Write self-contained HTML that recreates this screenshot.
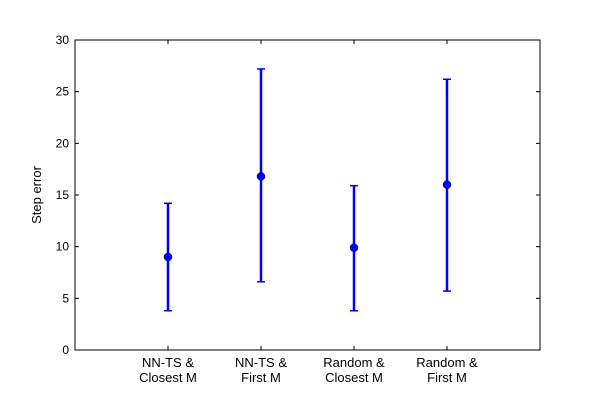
<!DOCTYPE html>
<html><head><meta charset="utf-8"><style>
body{margin:0;background:#fff}
svg{font-family:"Liberation Sans",sans-serif}
</style></head><body>
<svg id="chart" width="600" height="400"></svg>
<script>
const categories=["NN-TS &|Closest M","NN-TS &|First M","Random &|Closest M","Random &|First M"];
const means=[9.0,16.8,9.9,16.0];
const lows=[3.8,6.6,3.8,5.7];
const highs=[14.2,27.2,15.9,26.2];
const yTicks=[0,5,10,15,20,25,30];
const L=75,R=540,T=40,B=350;
const x=i=>L+(i+1)*(R-L)/5;
const y=v=>B-v*(B-T)/30;
const svg=document.getElementById('chart');
const NS='http://www.w3.org/2000/svg';
function mk(tag,attrs,parent){const e=document.createElementNS(NS,tag);for(const k in attrs)e.setAttribute(k,attrs[k]);(parent||svg).appendChild(e);return e;}
const frame=mk('rect',{x:L,y:T,width:R-L,height:B-T,fill:'none',stroke:'#000','stroke-width':1});


yTicks.forEach(v=>{
 const yy=y(v);
 mk('line',{x1:L,x2:L+4,y1:yy,y2:yy,stroke:'#000'});
 mk('line',{x1:R,x2:R-4,y1:yy,y2:yy,stroke:'#000'});
 const t=mk('text',{x:L-6,y:yy+4,'text-anchor':'end','font-size':12});
 t.textContent=v;
 
 
});
categories.forEach((c,i)=>{
 const xx=x(i);
 mk('line',{x1:xx,x2:xx,y1:B,y2:B-4,stroke:'#000'});
 mk('line',{x1:xx,x2:xx,y1:T,y2:T+4,stroke:'#000'});
 const parts=c.split('|');
 parts.forEach((p,j)=>{
  const t=mk('text',{x:xx,y:B+17+j*15,'text-anchor':'middle','font-size':13});
  t.textContent=p;
  
  
 });
 const g=mk('g',{});
 
 
 mk('line',{x1:xx,x2:xx,y1:y(lows[i]),y2:y(highs[i]),stroke:'#0000ff','stroke-width':2.5},g);
 mk('line',{x1:xx-4,x2:xx+4,y1:y(lows[i]),y2:y(lows[i]),stroke:'#0000ff','stroke-width':1.5},g);
 mk('line',{x1:xx-4,x2:xx+4,y1:y(highs[i]),y2:y(highs[i]),stroke:'#0000ff','stroke-width':1.5},g);
 const p=mk('circle',{cx:xx,cy:y(means[i]),r:4,fill:'#0000ff',stroke:'#000','stroke-width':0.5});
 
 
});
const yl=mk('text',{x:0,y:0,transform:'translate(41,195) rotate(-90)','text-anchor':'middle','font-size':13});
yl.textContent='Step error';


</script>
</body></html>
